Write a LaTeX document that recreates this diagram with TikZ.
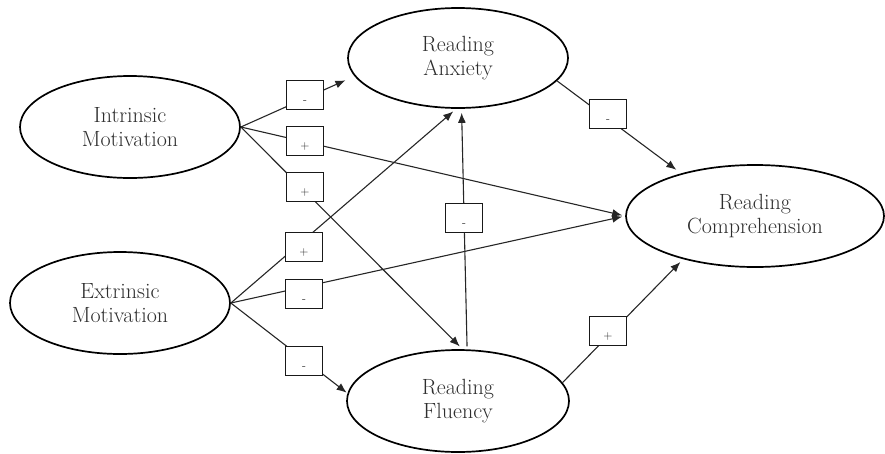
\documentclass[tikz,border=0pt]{standalone}
\usetikzlibrary{shapes.geometric,arrows.meta}
\begin{document}
\begin{tikzpicture}[x=1pt,y=-1pt,
  latent/.style={ellipse,draw=black,line width=1.7pt,inner sep=0pt,align=center,
    font=\fontsize{22}{24}\selectfont,text=black!82},
  signbox/.style={draw=black!90,fill=white,line width=1.6pt,minimum width=37pt,
    minimum height=29pt,inner sep=0pt,text height=17pt,text depth=0pt,
    font=\fontsize{12}{12}\selectfont,text=black!85},
  conn/.style={draw=black!85,line width=1.1pt,-{Latex[length=10pt,width=8pt]},shorten >=4pt}]
\useasboundingbox (0,0) rectangle (885,453);

% latent variables
\node[latent, minimum width=220pt, minimum height=102pt] (im) at (130,127) {Intrinsic\\Motivation};
\node[latent, minimum width=220pt, minimum height=102pt] (em) at (120,303) {Extrinsic\\Motivation};
\node[latent, minimum width=220pt, minimum height=100pt] (ra) at (458,58) {Reading\\Anxiety};
\node[latent, minimum width=222pt, minimum height=102pt] (rf) at (458,401) {Reading\\Fluency};
\node[latent, minimum width=258pt, minimum height=102pt] (rc) at (755,216) {Reading\\Comprehension};

% connectors
\draw[conn, shorten >=10pt] (im.east) -- (ra.190);
\draw[conn, shorten >=3pt] (im.east) -- (rc.west);
\draw[conn] (im.east) -- (rf.85);
\draw[conn] (em.east) -- (ra.-92);
\draw[conn, shorten >=3pt] (em.east) -- (rc.west);
\draw[conn, shorten >=1pt] (em.east) -- (rf.176);
\draw[conn, shorten <=3pt] (rf.80) -- (ra.-86);
\draw[conn, shorten >=6pt] (ra.-13) -- (rc.150);
\draw[conn] (rf.10) -- (rc.-149);

% sign boxes
\node[signbox] (b1) at (305,95) {-};
\node[signbox] (b2) at (305,141) {+};
\node[signbox] (b3) at (305,187) {+};
\node[signbox] (b4) at (304,247) {+};
\node[signbox] (b5) at (304,294) {-};
\node[signbox] (b6) at (304,361) {-};
\node[signbox] (b7) at (464,218) {-};
\node[signbox] (b8) at (608,114) {-};
\node[signbox] (b9) at (608,331) {+};
\end{tikzpicture}
\end{document}
